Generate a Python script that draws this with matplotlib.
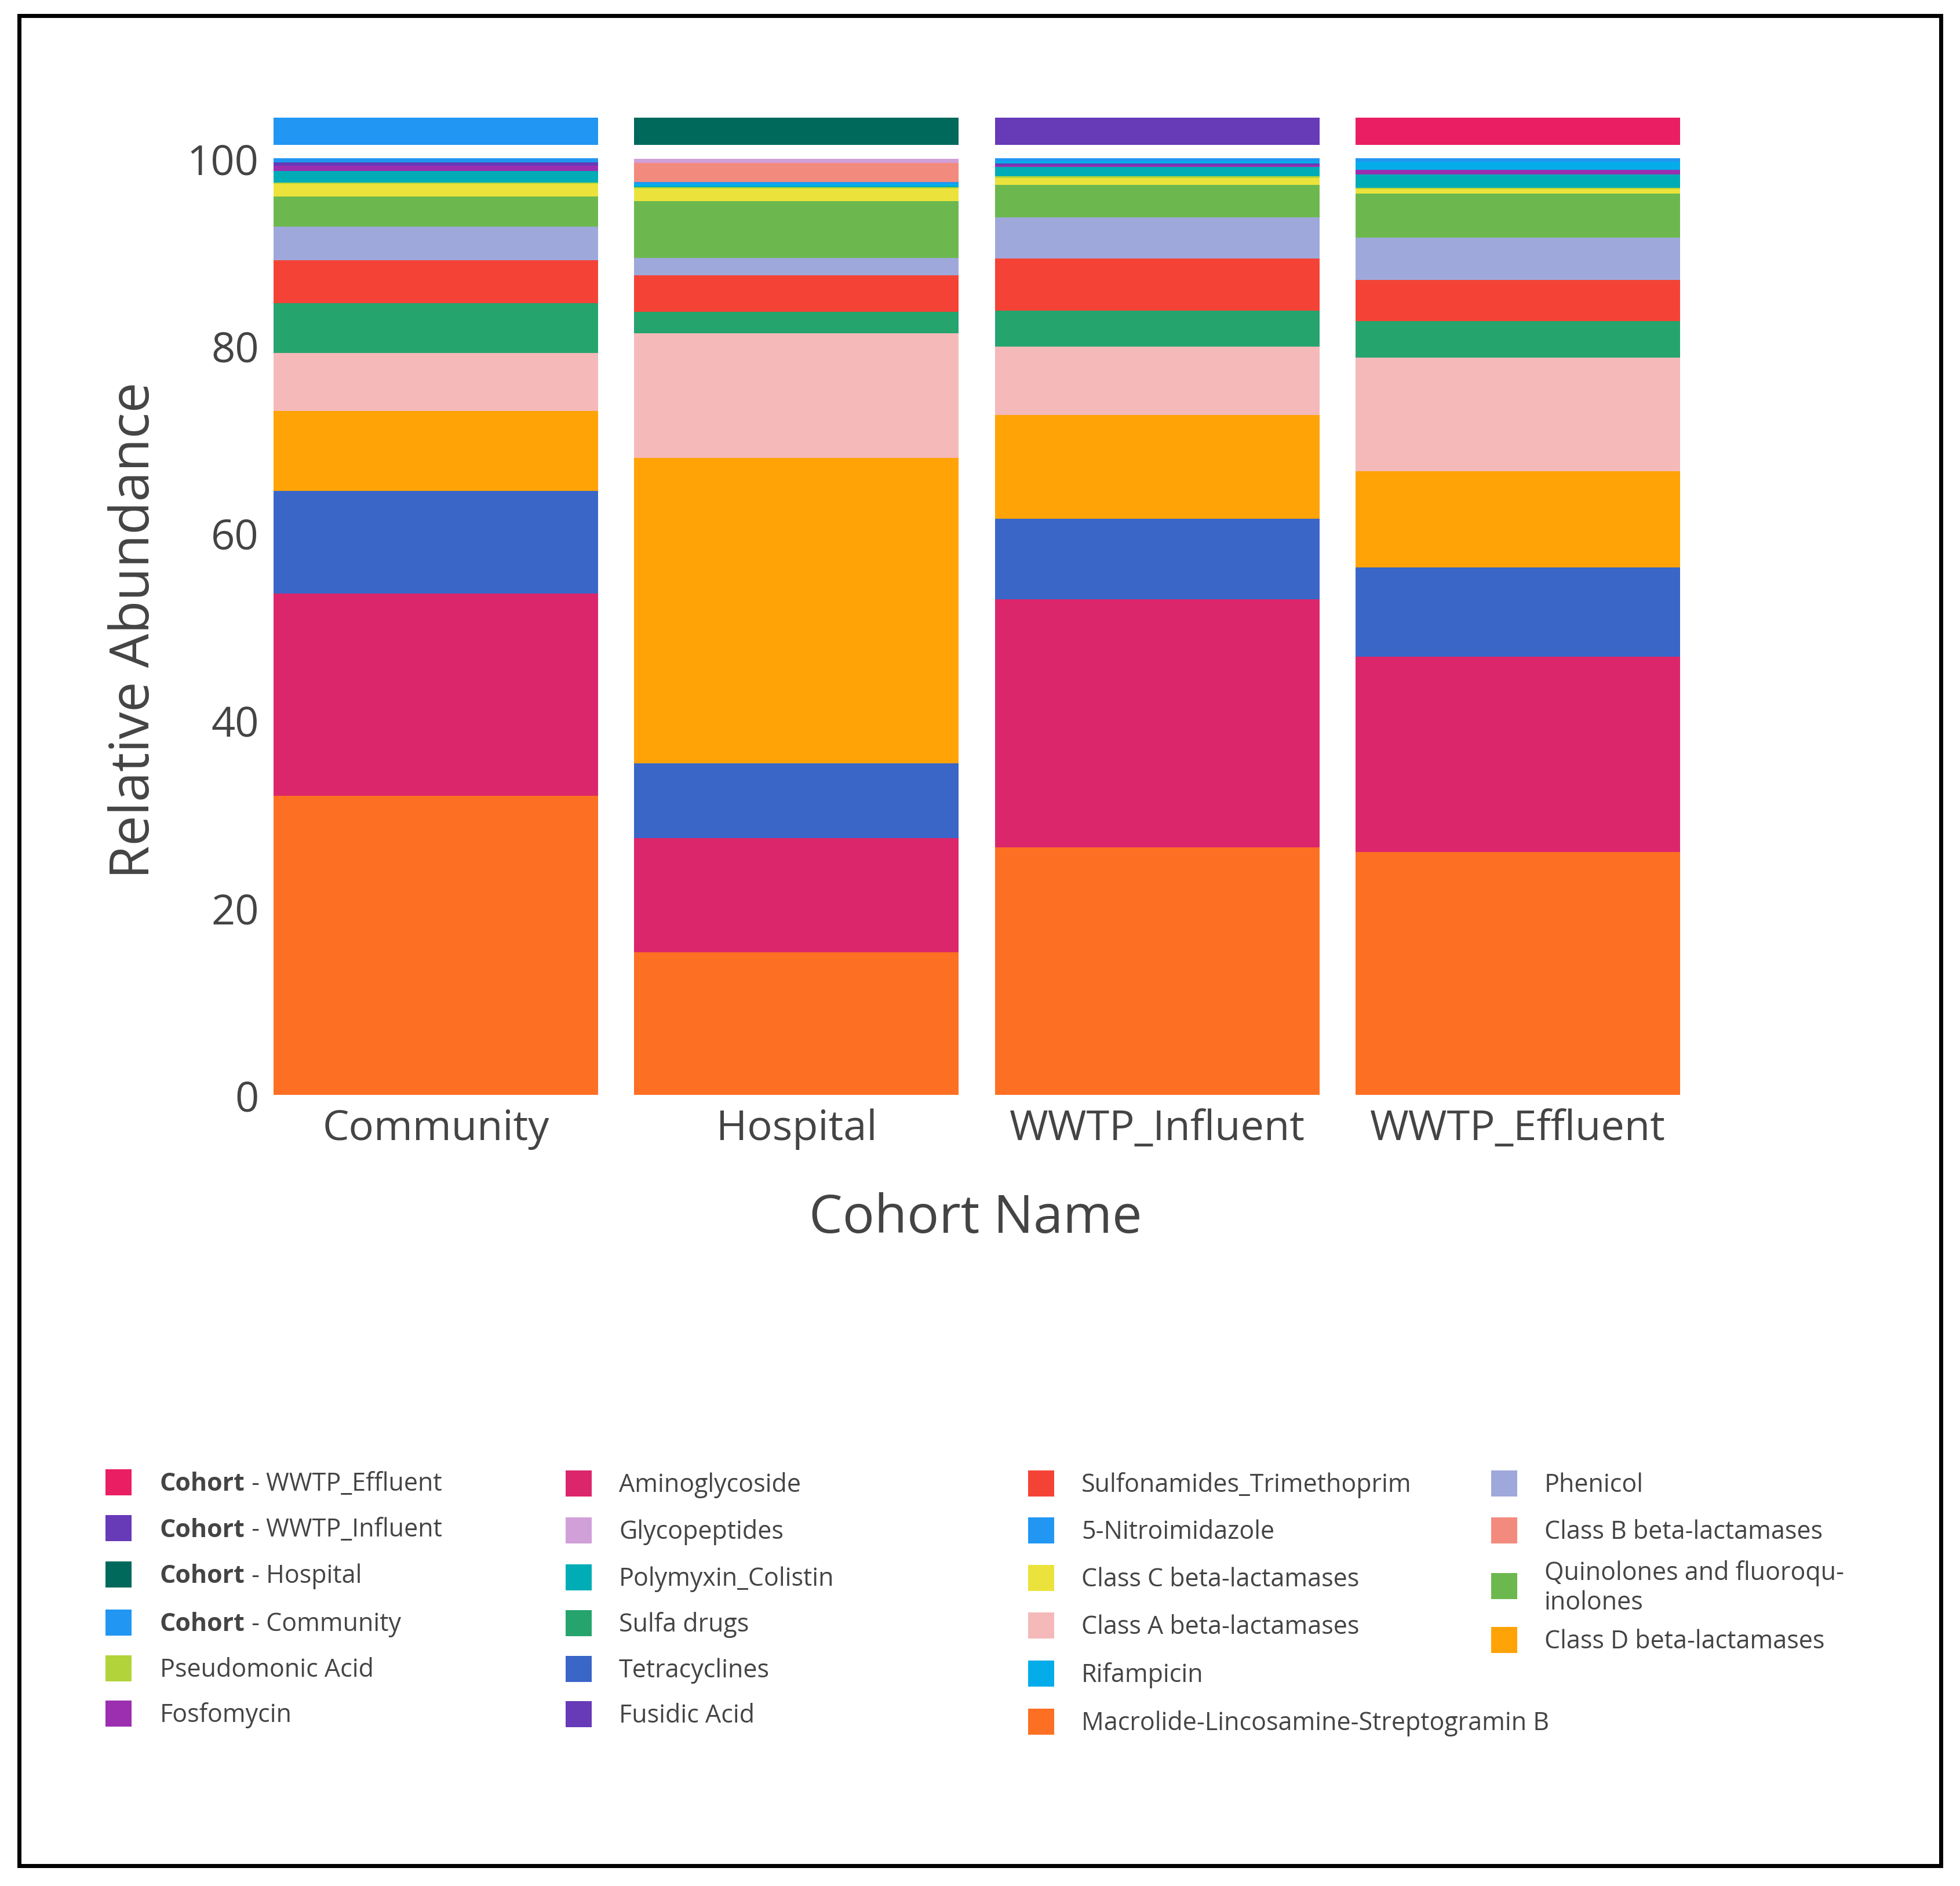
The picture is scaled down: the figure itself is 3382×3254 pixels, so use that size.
import matplotlib
matplotlib.use('Agg')
import matplotlib.pyplot as plt
from matplotlib.patches import Rectangle
import numpy as np

W, H = 3382, 3255
DPI = 100
plt.rcParams['font.family'] = ['Open Sans', 'DejaVu Sans']

# ---------------- data ----------------
cohorts = ['Community', 'Hospital', 'WWTP_Influent', 'WWTP_Effluent']
cohort_colors = ['#2196f3', '#00695c', '#673ab7', '#e91e63']

# stacking order, bottom -> top
classes = ['Macrolide-Lincosamine-Streptogramin B', 'Aminoglycoside', 'Tetracyclines',
           'Class D beta-lactamases', 'Class A beta-lactamases', 'Sulfa drugs',
           'Sulfonamides_Trimethoprim', 'Phenicol', 'Quinolones and fluoroquinolones',
           'Class C beta-lactamases', 'Pseudomonic Acid', 'Polymyxin_Colistin',
           'Fosfomycin', 'Fusidic Acid', 'Rifampicin', '5-Nitroimidazole',
           'Class B beta-lactamases', 'Glycopeptides']
class_colors = ['#fd6f22', '#dc266b', '#3a66c8', '#ffa306', '#f5b9b9', '#26a46e',
                '#f44336', '#9fa8da', '#6cb84f', '#ebe33b', '#b2d33a', '#00acb6',
                '#9c2fb0', '#673ab7', '#04ade9', '#2196f3', '#f28b7e', '#d1a0d8']

community = [31.9, 21.6, 11.0, 8.5, 6.2, 5.3, 4.6, 3.6, 3.2, 1.4, 0.1, 1.25, 0.55, 0.35, 0.1, 0.35, 0.0, 0.0]
hospital = [15.2, 12.2, 8.0, 32.6, 13.3, 2.3, 3.9, 1.85, 6.1, 1.35, 0.1, 0.15, 0.0, 0.0, 0.2, 0.2, 2.05, 0.45]
wwtp_influent = [26.4, 26.5, 8.6, 11.1, 7.3, 3.8, 5.6, 4.4, 3.45, 0.75, 0.2, 0.95, 0.2, 0.2, 0.25, 0.3, 0.0, 0.0]
wwtp_effluent = [25.9, 20.9, 9.5, 10.3, 12.1, 3.9, 4.4, 4.5, 4.7, 0.5, 0.15, 1.4, 0.5, 0.0, 0.9, 0.35, 0.0, 0.0]

y_ticks = [0, 20, 40, 60, 80, 100]

# legend layout (columns as shown)
legend_cols = [
    [('Cohort', 'WWTP_Effluent', '#e91e63'), ('Cohort', 'WWTP_Influent', '#673ab7'),
     ('Cohort', 'Hospital', '#00695c'), ('Cohort', 'Community', '#2196f3'),
     (None, 'Pseudomonic Acid', '#b2d33a'), (None, 'Fosfomycin', '#9c2fb0')],
    [(None, 'Aminoglycoside', '#dc266b'), (None, 'Glycopeptides', '#d1a0d8'),
     (None, 'Polymyxin_Colistin', '#00acb6'), (None, 'Sulfa drugs', '#26a46e'),
     (None, 'Tetracyclines', '#3a66c8'), (None, 'Fusidic Acid', '#673ab7')],
    [(None, 'Sulfonamides_Trimethoprim', '#f44336'), (None, '5-Nitroimidazole', '#2196f3'),
     (None, 'Class C beta-lactamases', '#ebe33b'), (None, 'Class A beta-lactamases', '#f5b9b9'),
     (None, 'Rifampicin', '#04ade9'), (None, 'Macrolide-Lincosamine-Streptogramin B', '#fd6f22')],
    [(None, 'Phenicol', '#9fa8da'), (None, 'Class B beta-lactamases', '#f28b7e'),
     (None, 'Quinolones and fluoroqu-\ninolones', '#6cb84f'), (None, 'Class D beta-lactamases', '#ffa306')],
]

# ---------------- layout helpers ----------------
def fx(x):
    return x / W

def fy(y):
    return 1 - y / H

TXT = '#444444'

fig = plt.figure(figsize=(W / DPI, H / DPI), dpi=DPI)
fig.patch.set_facecolor('white')

# main axes
ax_l, ax_r, ax_t, ax_b = 441, 2930, 274, 1890
ax = fig.add_axes([fx(ax_l), fy(ax_b), fx(ax_r - ax_l), (ax_b - ax_t) / H])
x = np.arange(len(cohorts))
data = np.array([community, hospital, wwtp_influent, wwtp_effluent])  # cohorts x classes
bottom = np.zeros(len(cohorts))
for j, (name, col) in enumerate(zip(classes, class_colors)):
    vals = data[:, j]
    ax.bar(x, vals, width=0.9, bottom=bottom, color=col, linewidth=0, label=name)
    bottom += vals
ax.set_xlim(-0.5, 3.5)
ax.set_ylim(0, 100)
for s in ax.spines.values():
    s.set_visible(False)
ax.set_xticks(x)
ax.set_xticklabels(cohorts, fontsize=52, color=TXT)
ax.set_yticks(y_ticks)
ax.set_yticklabels([str(v) for v in y_ticks], fontsize=52, color=TXT)
ax.tick_params(axis='both', length=0)
ax.tick_params(axis='x', pad=16)
ax.tick_params(axis='y', pad=-4)

# cohort strip axes
st_t, st_b = 204, 251
ax2 = fig.add_axes([fx(ax_l), fy(st_b), fx(ax_r - ax_l), (st_b - st_t) / H])
ax2.bar(x, [1] * len(cohorts), width=0.9, color=cohort_colors, linewidth=0)
ax2.set_xlim(-0.5, 3.5)
ax2.set_ylim(0, 1)
ax2.axis('off')

# axis titles
fig.text(fx(1683), fy(2103), 'Cohort Name', fontsize=66, color=TXT,
         ha='center', va='center')
fig.text(fx(233), fy((ax_t + ax_b) / 2 + 6), 'Relative Abundance', fontsize=67, color=TXT,
         ha='center', va='center', rotation=90)

# ---------------- legend ----------------
col_sq_x = [182, 976, 1774, 2573]
col_tx_x = [276, 1068, 1866, 2665]
col_rows = [
    [2561, 2640, 2720, 2803, 2882, 2960],
    [2563, 2644, 2725, 2804, 2883, 2961],
    [2563, 2644, 2726, 2808, 2891, 2974],
    [2563, 2644, 2740, 2833],
]
SQ = 45
LEG_FS = 31
renderer = fig.canvas.get_renderer()
for ci, items in enumerate(legend_cols):
    for ri, (bold, label, col) in enumerate(items):
        yc = col_rows[ci][ri]
        fig.patches.append(Rectangle((fx(col_sq_x[ci]), fy(yc + SQ / 2 - 3)), SQ / W, SQ / H,
                                     transform=fig.transFigure, facecolor=col,
                                     edgecolor='none'))
        if bold:
            t = fig.text(fx(col_tx_x[ci]), fy(yc), bold, fontsize=LEG_FS, color=TXT,
                         fontweight='bold', ha='left', va='center')
            bb = t.get_window_extent(renderer)
            fig.text(bb.x1 / W, fy(yc), ' - ' + label, fontsize=LEG_FS, color=TXT,
                     ha='left', va='center')
        else:
            fig.text(fx(col_tx_x[ci]), fy(yc), label, fontsize=LEG_FS, color=TXT,
                     ha='left', va='center', linespacing=1.2)

# outer frame
fig.patches.append(Rectangle((fx(32.5), fy(3219.5)), (3348.5 - 32.5) / W, (3219.5 - 27.5) / H,
                             transform=fig.transFigure, facecolor='none',
                             edgecolor='black', linewidth=7 * 72 / DPI))

fig.savefig('out.png', dpi=DPI, facecolor='white')
